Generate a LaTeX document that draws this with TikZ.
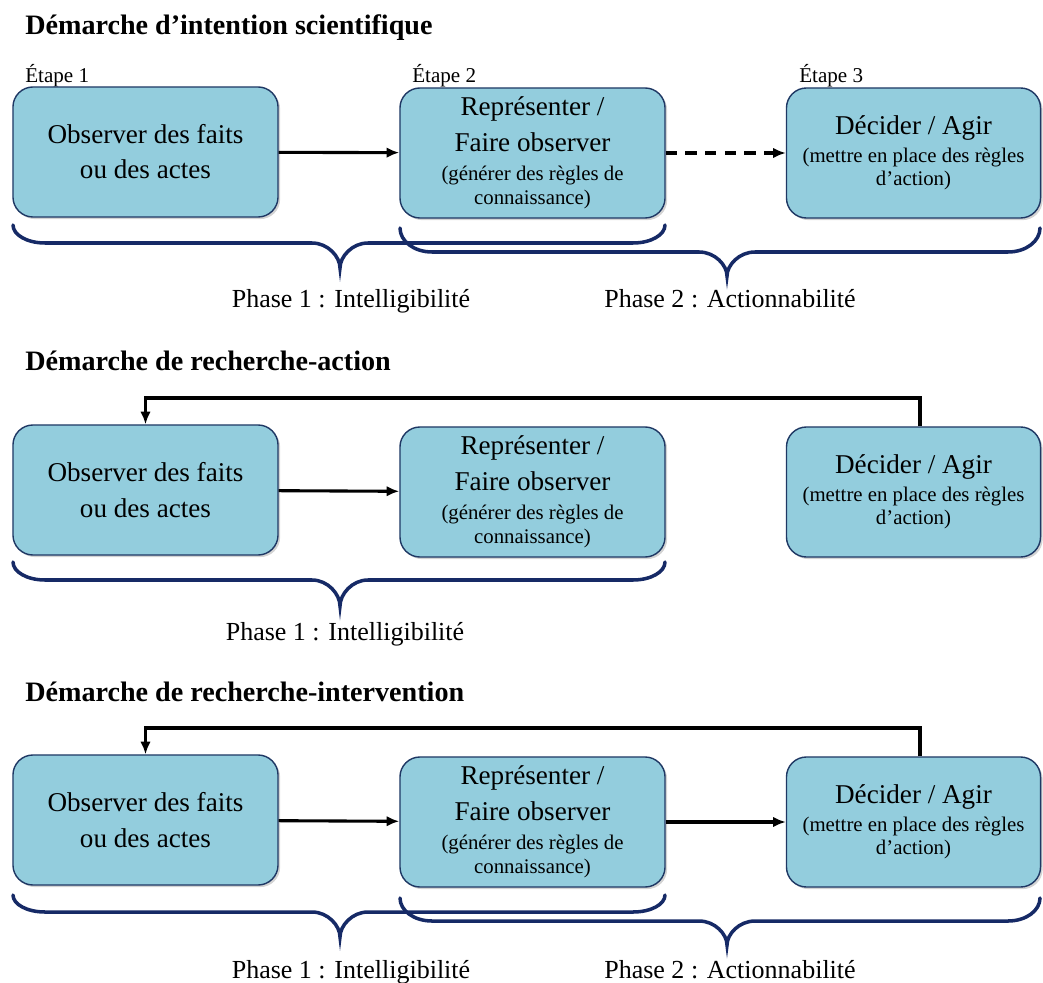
\documentclass[tikz,border=0pt]{standalone}
\usepackage{fontspec}
\setmainfont{Liberation Serif}
\usetikzlibrary{arrows.meta, positioning, shadows}
\newlength{\w}
\setlength{\w}{6.625cm}
\newlength{\h}
\setlength{\h}{3.25cm}
\definecolor{boxcolor}{RGB}{147,205,221}
\definecolor{edgecolor}{RGB}{31,56,100}
\definecolor{bracecolor}{RGB}{22,42,102}
\newcommand{\grand}{\fontsize{19.3}{25}\selectfont}
\newcommand{\petit}{\fontsize{14.8}{17}\selectfont}
\tikzset{etape/.style={draw=edgecolor, fill=boxcolor, line width=1pt, rounded corners=0.5cm, minimum width=\w, minimum height=\h, align=center, font=\grand, drop shadow={opacity=0.35, shadow xshift=1.5pt, shadow yshift=-1.5pt}}}
\tikzset{titre/.style={anchor=base west, inner sep=0pt, font=\bfseries\fontsize{20}{24}\selectfont}}
\tikzset{numero/.style={anchor=base west, inner sep=0pt, font=\fontsize{15}{18}\selectfont}}
\tikzset{phase/.style={anchor=base, inner sep=0pt, font=\fontsize{18.5}{22}\selectfont}}
\tikzset{fleche/.style={-{Latex[length=9pt,width=7.5pt]}, line width=2.2pt}}
\tikzset{accolade/.style={draw=bracecolor, line width=2.5pt, line cap=round}}
% accolade : x gauche, x droite, x pointe, y haut, y ligne, y pointe
\newcommand{\accolade}[6]{\draw[accolade] (#1,#4) .. controls (#1,#4+0.55*#5-0.55*#4) and (#1+14,#5) .. (#1+32,#5) -- (#3-28,#5) .. controls (#3-12,#5) and (#3,#6-0.45*#6+0.45*#5) .. (#3,#6) .. controls (#3,#6-0.45*#6+0.45*#5) and (#3+12,#5) .. (#3+28,#5) -- (#2-32,#5) .. controls (#2-14,#5) and (#2,#4+0.55*#5-0.55*#4) .. (#2,#4);}

\begin{document}
\begin{tikzpicture}[x=0.025cm, y=-0.025cm]
	\useasboundingbox (0,0) rectangle (1043,983);
	
	%%% NODES %%%
	
	% INTENTION SCIENTIFIQUE
	\node[titre] at (25,35) (titre1) {Démarche d’intention scientifique};
	\node[numero] at (25,83) (num1) {Étape 1};
	\node[numero] at (412,83) (num2) {Étape 2};
	\node[numero] at (799,83) (num3) {Étape 3};
	\node[etape] at (145.5,152) (obs1) {Observer des faits\\ou des actes};
	\node[etape] at (532.5,153) (rep1) {Représenter /\\Faire observer\\[-4pt]\petit (générer des règles de\\[-8pt]\petit connaissance)};
	\node[etape, minimum width=6.35cm] at (913.5,153) (dec1) {Décider / Agir\\[-5pt]\petit (mettre en place des règles\\[-8.5pt]\petit d’action)};
	\node[phase] at (351,308) (int1) {Phase 1 : Intelligibilité};
	\node[phase] at (730,308) (act1) {Phase 2 : Actionnabilité};
	
	% RECHERCHE-ACTION
	\node[titre] at (25,370) (titre2) {Démarche de recherche-action};
	\node[etape] at (145.5,490) (obs2) {Observer des faits\\ou des actes};
	\node[etape] at (532.5,492) (rep2) {Représenter /\\Faire observer\\[-4pt]\petit (générer des règles de\\[-8pt]\petit connaissance)};
	\node[etape, minimum width=6.35cm] at (913.5,492) (dec2) {Décider / Agir\\[-5pt]\petit (mettre en place des règles\\[-8.5pt]\petit d’action)};
	\node[phase] at (345,640) (int2) {Phase 1 : Intelligibilité};
	
	% RECHERCHE-INTERVENTION
	\node[titre] at (25,701) (titre3) {Démarche de recherche-intervention};
	\node[etape] at (145.5,820) (obs3) {Observer des faits\\ou des actes};
	\node[etape] at (532.5,822) (rep3) {Représenter /\\Faire observer\\[-4pt]\petit (générer des règles de\\[-8pt]\petit connaissance)};
	\node[etape, minimum width=6.35cm] at (913.5,822) (dec3) {Décider / Agir\\[-5pt]\petit (mettre en place des règles\\[-8.5pt]\petit d’action)};
	\node[phase] at (351,978) (int3) {Phase 1 : Intelligibilité};
	\node[phase] at (730,978) (act3) {Phase 2 : Actionnabilité};
	
	%%% EXTRA ARROW NODES %%%
	\coordinate (ret2) at (920,398);
	\coordinate (ret3) at (920,728);
	
	%%% ARROWS %%%
	\draw[fleche] (obs1) -- (rep1);
	\draw[fleche, dash pattern=on 8pt off 6pt] (rep1) -- (dec1);
	
	\draw[fleche] (obs2) -- (rep2);
	\draw[fleche] (dec2.north -| ret2) -- (ret2) -| (obs2.north);
	
	\draw[fleche] (obs3) -- (rep3);
	\draw[fleche] (rep3) -- (dec3);
	\draw[fleche] (dec3.north -| ret3) -- (ret3) -| (obs3.north);
	
	%%% ACCOLADES %%%
	\accolade{400}{1040}{727}{228}{252}{276}
	\accolade{13}{665}{340}{225}{243}{268}
	\accolade{13}{665}{340}{562}{580}{606}
	\accolade{400}{1040}{727}{898}{921}{945}
	\accolade{13}{665}{340}{895}{912}{937}
	
\end{tikzpicture}
\end{document}
